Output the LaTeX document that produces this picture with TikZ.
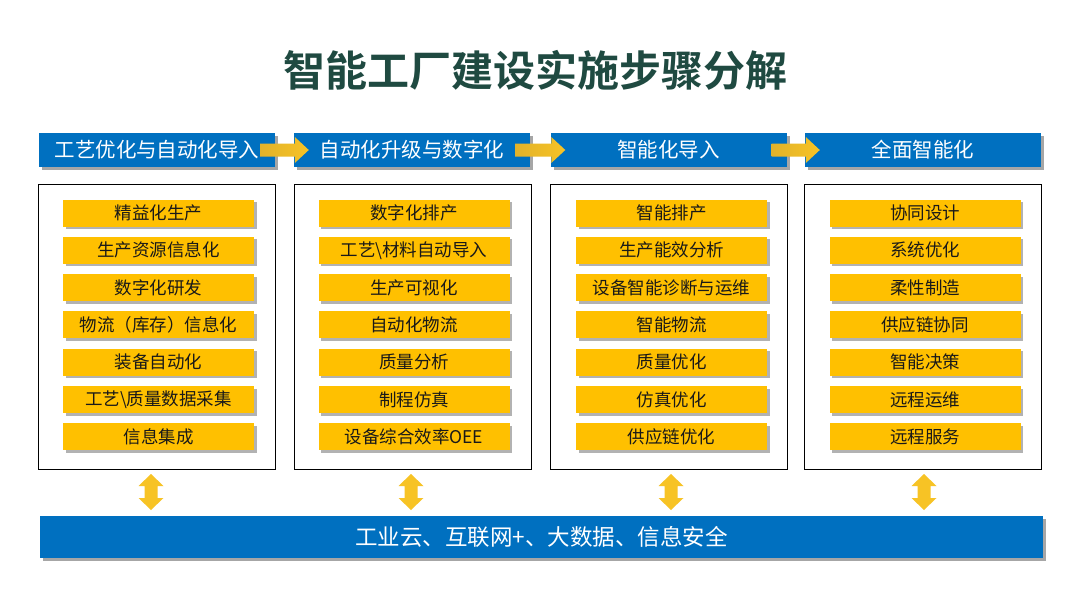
\documentclass[tikz,border=0pt]{standalone}
\usepackage{fontspec}
\setmainfont{Noto Sans CJK SC}
\newfontfamily\cjk{Noto Sans CJK SC}
\newfontfamily\cjkb{Noto Sans CJK SC Bold}
\usetikzlibrary{shadows,calc}
\definecolor{hblue}{HTML}{0070C0}
\definecolor{iyel}{HTML}{FFC000}
\definecolor{ayel}{HTML}{F7C325}
\definecolor{ayeld}{HTML}{E2B22A}
\definecolor{tgreen}{HTML}{1F4A41}
\begin{document}
\begin{tikzpicture}[x=1pt,y=-1pt,
  hdr/.style={fill=hblue,text=white,minimum width=236pt,minimum height=34pt,inner sep=0pt,
    font=\cjk\fontsize{20.5}{22}\selectfont,
    drop shadow={shadow xshift=3pt,shadow yshift=-3pt,fill=black,opacity=.35}},
  colbox/.style={draw=black,line width=0.9pt,fill=white,minimum width=237pt,minimum height=285pt,inner sep=0pt},
  item/.style={fill=iyel,text=black!90,minimum width=191pt,minimum height=27pt,inner sep=0pt,
    font=\cjk\fontsize{17.5}{19}\selectfont,
    drop shadow={shadow xshift=2.5pt,shadow yshift=-2.5pt,fill=black,opacity=.3}},
  harrow/.style={left color=ayeld,right color=ayel},
  varrow/.style={fill=ayel}
]
\useasboundingbox (0,0) rectangle (1080,608);
\fill[white] (0,0) rectangle (1080,608);

\node[font=\cjkb\fontsize{42}{45}\selectfont,text=tgreen] (title) at (535,70) {智能工厂建设实施步骤分解};

% column boxes
\node[colbox] (b1) at (157,326.5) {};
\node[colbox] (b2) at (412.5,326.5) {};
\node[colbox] (b3) at (669,326.5) {};
\node[colbox] (b4) at (923,326.5) {};

% headers
\node[hdr] (h1) at (157,150) {工艺优化与自动化导入};
\node[hdr] (h2) at (412,150) {自动化升级与数字化};
\node[hdr] (h3) at (668.5,150) {智能化导入};
\node[hdr] (h4) at (923,150) {全面智能化};

% horizontal arrows
\foreach \a/\b in {h1/h2,h2/h3,h3/h4}{
  \shade[harrow] ($(\a.east)+(-15,-6.5)$) -- ($(\b.west)+(1,-6.5)$) -- ($(\b.west)+(1,-13)$)
     -- ($(\b.west)+(15,0)$) -- ($(\b.west)+(1,13)$) -- ($(\b.west)+(1,6.5)$)
     -- ($(\a.east)+(-15,6.5)$) -- cycle;
}

% items
\foreach \t [count=\i] in {精益化生产,生产资源信息化,数字化研发,物流（库存）信息化,装备自动化,工艺\textbackslash 质量数据采集,信息集成}{
  \node[item] (a\i) at (158.5,{213+37.3*(\i-1)}) {\t};
}
\foreach \t [count=\i] in {数字化排产,工艺\textbackslash 材料自动导入,生产可视化,自动化物流,质量分析,制程仿真,设备综合效率OEE}{
  \node[item] (c\i) at (414,{213+37.3*(\i-1)}) {\t};
}
\foreach \t [count=\i] in {智能排产,生产能效分析,设备智能诊断与运维,智能物流,质量优化,仿真优化,供应链优化}{
  \node[item] (d\i) at (671.5,{213+37.3*(\i-1)}) {\t};
}
\foreach \t [count=\i] in {协同设计,系统优化,柔性制造,供应链协同,智能决策,远程运维,远程服务}{
  \node[item] (e\i) at (925,{213+37.3*(\i-1)}) {\t};
}

% bottom bar
\node[fill=hblue,text=white,minimum width=1003pt,minimum height=42pt,inner sep=0pt,
  font=\cjk\fontsize{22.5}{24}\selectfont,
  drop shadow={shadow xshift=3pt,shadow yshift=-3pt,fill=black,opacity=.35}] (bar) at (541.5,537) {工业云、互联网+、大数据、信息安全};

% vertical double arrows
\foreach \b/\x in {b1/151,b2/411,b3/671,b4/924}{
  \coordinate (top\b) at (\x,474);
  \coordinate (bot\b) at (\x,510);
  \fill[varrow] (top\b) -- ++(12.5,12) -- ++(-6,0) -- ++(0,12) -- ++(6,0) -- (bot\b)
     -- ++(-12.5,-12) -- ++(6,0) -- ++(0,-12) -- ++(-6,0) -- cycle;
}
\end{tikzpicture}
\end{document}
